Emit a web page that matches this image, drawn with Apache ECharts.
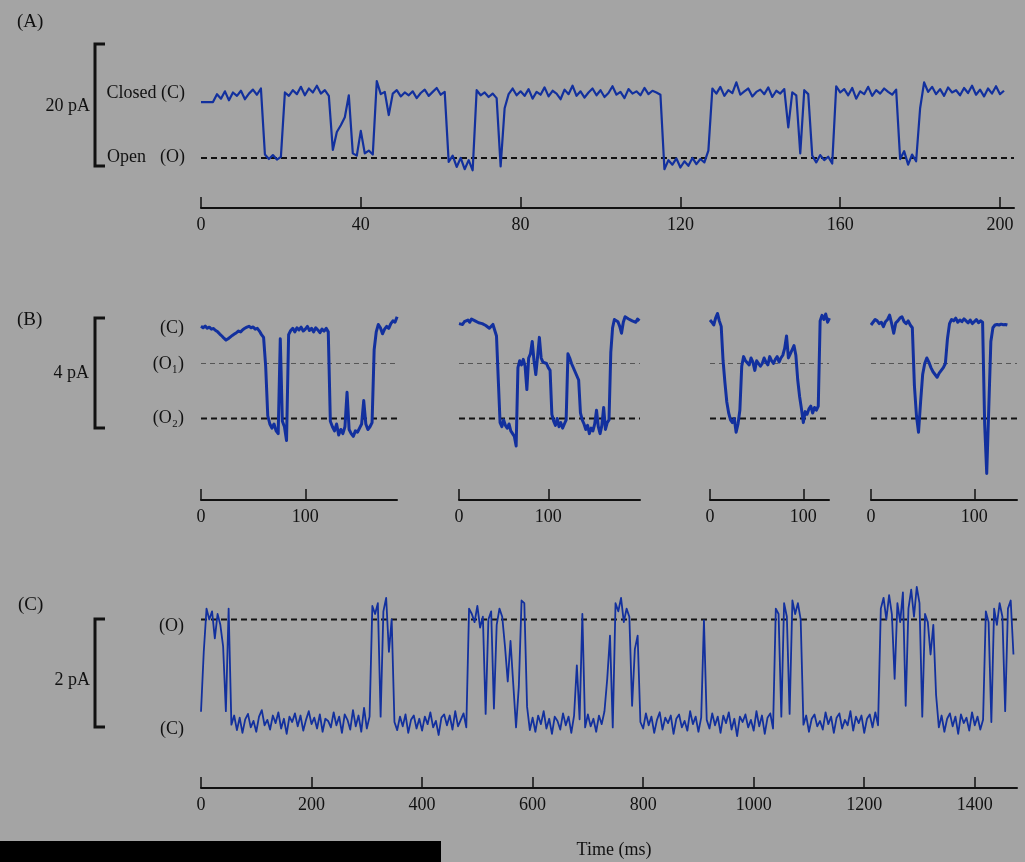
<!DOCTYPE html>
<html>
<head>
<meta charset="utf-8">
<script src="https://cdn.jsdelivr.net/npm/echarts@6/dist/echarts.min.js"></script>
<style>
  html, body { margin: 0; padding: 0; background: #a4a4a4; }
  #main { width: 1025px; height: 862px; }
</style>
</head>
<body>
<div id="main"></div>
<script>
// single channel current traces (pA)
// (A) 1 ms per sample
var aStep = 1;
var aCurrent = [
  -0.9, -0.9, -0.9, -0.9, 0.5, -0.3, 1.0, -0.6, 0.8, 0.2,
  1.1, -0.4, 0.6, 1.3, 0.4, 1.5, -10.2, -11.0, -10.3, -11.1,
  -10.6, 0.8, 0.2, 1.2, 0.5, 1.8, 0.3, 1.5, 0.8, 2.0,
  0.6, 1.2, 0.2, -9.4, -6.2, -5.0, -3.6, 0.3, -10.0, -10.4,
  -6.0, -10.0, -9.5, -10.2, 2.8, 0.5, 0.9, -3.2, 0.6, 1.2,
  0.1, 0.8, 0.3, 1.0, -0.2, 0.7, 1.3, 0.2, 0.9, 1.6,
  0.4, 0.9, -11.5, -10.4, -12.4, -10.8, -12.8, -11.2, -13.0, 1.2,
  0.3, 0.8, 0.0, 0.6, -0.2, -12.3, -2.0, 0.5, 1.5, 0.3,
  1.0, 0.2, 1.4, -0.3, 0.9, 0.4, 1.7, 0.1, 1.1, 0.6,
  -0.4, 1.3, 0.5, 2.0, 0.2, 1.0, -0.1, 0.8, 1.5, 0.3,
  1.2, 0.0, 0.7, 1.9, 0.4, 0.9, -0.2, 1.4, 0.6, 1.0,
  0.3, 1.6, 0.5, 1.1, 0.8, 0.4, -12.8, -11.2, -12.0, -10.9,
  -12.5, -11.4, -12.2, -10.8, -11.9, -11.0, -11.6, -9.5, 1.5, 0.6,
  1.8, 0.2, 1.2, 0.7, 2.6, 0.4, 1.0, 1.5, 0.1, 0.9,
  1.3, 0.5, 1.7, 0.0, 1.1, 0.6, 1.4, -5.4, 0.8, 0.3,
  -10.0, 1.2, 0.5, -10.4, -11.6, -10.3, -11.2, -10.6, -11.8, 1.9,
  0.8, 1.4, 0.3, 1.6, -0.3, 1.0, 0.5, 1.8, 0.2, 1.2,
  0.6, 1.5, 0.9, 0.4, 1.3, -11.0, -9.6, -12.0, -10.2, -11.4,
  -2.0, 2.6, 0.9, 1.8, 0.5, 1.4, 0.2, 1.7, 0.8, 1.2,
  0.3, 1.6, 0.7, 2.0, 0.4, 1.3, 0.1, 1.5, 0.6, 1.9,
  0.5, 1.1
];
var aOpen = -10.8;
var aTicks = [0, 40, 80, 120, 160, 200];

// (B) 2 ms per sample, four sweeps
var bStep = 2;
var b1Current = [
  -0.05, -0.10, -0.04, -0.12, -0.08, -0.15, -0.13, -0.20, -0.25, -0.33,
  -0.40, -0.48, -0.55, -0.50, -0.44, -0.38, -0.33, -0.28, -0.22, -0.25,
  -0.17, -0.12, -0.08, -0.05, -0.10, -0.07, -0.15, -0.12, -0.22, -0.35,
  -0.45, -1.50, -3.30, -3.60, -3.75, -3.60, -3.85, -3.95, -0.50, -3.50,
  -3.70, -4.20, -0.35, -0.20, -0.12, -0.25, -0.10, -0.18, -0.08, -0.22,
  -0.15, -0.05, -0.20, -0.12, -0.25, -0.10, -0.18, -0.28, -0.15, -0.22,
  -0.12, -0.25, -3.50, -3.70, -3.85, -3.60, -4.00, -3.80, -3.95, -3.70,
  -2.45, -3.80, -3.95, -4.05, -3.85, -3.90, -3.75, -3.60, -2.75, -3.60,
  -3.80, -3.70, -3.55, -0.90, -0.25, 0.02, -0.10, -0.32, -0.15, -0.05,
  -0.12, 0.05, 0.15, 0.10, 0.30
];
var b2Current = [
  0.05, 0.10, 0.02, 0.12, 0.15, 0.18, 0.10, 0.22, 0.26, 0.15,
  0.20, 0.08, 0.15, 0.05, 0.12, -0.02, -0.08, -0.12, -0.05, 0.02,
  -0.05, -0.40, -2.00, -3.55, -3.70, -3.45, -3.65, -3.75, -3.60, -3.85,
  -3.95, -4.05, -4.40, -1.55, -1.30, -1.45, -1.25, -1.50, -2.35, -1.20,
  -1.05, -0.60, -1.30, -1.80, -1.15, -0.45, -1.20, -1.35, -1.30, -1.40,
  -1.55, -1.65, -3.25, -3.50, -3.65, -3.40, -3.70, -3.55, -3.75, -3.60,
  -3.45, -1.05, -1.20, -1.40, -1.45, -1.70, -1.75, -2.00, -3.20, -3.45,
  -3.60, -3.80, -3.65, -3.95, -3.75, -3.85, -3.60, -3.10, -3.70, -3.95,
  -3.65, -3.00, -3.80, -3.55, -3.45, -1.00, -0.10, 0.20, 0.25, 0.12,
  -0.05, -0.30, 0.10, 0.30, 0.35, 0.22, 0.28, 0.15, 0.20, 0.10,
  0.22, 0.15
];
var b3Current = [
  0.18, 0.10, 0.00, 0.25, 0.42, 0.15, -0.05, -1.30, -2.10, -2.80,
  -3.20, -3.45, -3.55, -3.40, -3.90, -3.60, -3.10, -1.50, -1.15, -1.30,
  -1.30, -1.45, -1.20, -1.35, -1.65, -1.30, -1.25, -1.50, -1.40, -1.20,
  -1.35, -1.45, -1.15, -1.30, -1.40, -1.25, -1.15, -1.35, -1.20, -1.10,
  -0.85, -0.40, -1.20, -1.05, -0.90, -0.75, -1.10, -2.00, -2.60, -3.05,
  -3.55, -3.15, -3.25, -3.05, -2.95, -3.20, -3.00, -3.10, -2.95, 0.15,
  0.35, 0.20, 0.40, 0.10, 0.25
];
var b4Current = [
  0.00, 0.10, 0.20, 0.15, 0.05, 0.10, -0.06, 0.12, 0.20, 0.36,
  0.05, -0.30, 0.08, 0.15, 0.25, 0.30, 0.12, 0.05, 0.15, 0.00,
  -0.10, -2.20, -3.30, -3.90, -2.80, -1.80, -1.40, -1.20, -1.35, -1.55,
  -1.70, -1.80, -1.90, -1.75, -1.65, -1.55, -1.40, -0.50, 0.05, 0.20,
  0.15, 0.25, 0.10, 0.18, 0.12, 0.22, 0.15, 0.08, 0.18, 0.05,
  0.12, 0.20, 0.08, 0.15, 0.10, -3.60, -5.40, -3.00, -0.60, -0.10,
  0.00, 0.02, 0.00, 0.03, 0.01, 0.02, 0.00
];
var bO1 = -1.4;
var bO2 = -3.4;
var bTicks = [0, 100];

// (C) 5 ms per sample
var cStep = 5;
var cCurrent = [
  0.19, 1.30, 2.10, 1.90, 2.05, 1.55, 2.00, 1.80, 1.40, 0.20,
  2.10, -0.05, 0.12, -0.15, 0.08, -0.20, 0.05, 0.15, -0.10, 0.02,
  -0.18, 0.10, 0.22, -0.06, 0.04, -0.14, 0.12, -0.02, 0.18, -0.12,
  0.06, -0.22, 0.10, 0.00, 0.16, -0.08, 0.12, -0.16, 0.04, 0.20,
  -0.04, 0.08, -0.12, 0.14, -0.18, 0.06, 0.02, -0.10, 0.18, -0.06,
  0.10, -0.20, 0.14, 0.04, -0.14, 0.22, -0.08, 0.12, -0.18, 0.26,
  -0.12, 0.10, 2.15, 2.00, 2.20, 0.10, 2.05, 2.30, 1.30, 1.90,
  0.00, -0.15, 0.10, -0.08, 0.14, -0.20, 0.04, 0.12, -0.12, 0.06,
  -0.16, 0.10, -0.04, 0.18, -0.10, 0.02, -0.24, 0.08, 0.14, -0.06,
  0.12, -0.14, 0.20, -0.08, 0.04, 0.16, -0.10, 2.10, 2.00, 1.85,
  2.15, 1.75, 1.95, 0.15, 1.90, 2.05, 0.25, 1.80, 2.10, 1.95,
  1.40, 0.75, 1.50, 0.70, -0.10, 0.65, 2.25, 2.20, 0.28, -0.15,
  0.08, -0.18, 0.12, -0.04, 0.20, -0.12, 0.06, -0.22, 0.10, 0.02,
  -0.14, 0.16, -0.06, 0.10, -0.20, 0.12, 1.05, 0.05, 2.00, -0.10,
  0.14, -0.08, 0.06, -0.18, 0.12, -0.04, 0.20, 0.80, 1.60, -0.10,
  2.20, 2.05, 2.30, 1.85, 2.10, 1.95, 0.30, 1.35, 1.60, 0.00,
  -0.12, 0.16, -0.06, 0.10, -0.20, 0.04, 0.18, -0.14, 0.08, -0.02,
  0.12, -0.22, 0.06, 0.14, -0.10, 0.02, -0.16, 0.20, -0.04, 0.10,
  -0.18, 0.08, 1.88, 0.04, -0.12, 0.16, -0.06, 0.10, -0.20, 0.12,
  -0.02, 0.18, -0.14, 0.06, -0.26, 0.10, 0.00, 0.14, -0.10, 0.04,
  -0.16, 0.20, -0.08, 0.12, -0.22, 0.08, 0.16, -0.12, 2.10, 2.00,
  0.10, 2.20, 1.95, 0.15, 2.25, 2.00, 2.20, 1.90, -0.05, 0.12,
  -0.18, 0.06, 0.14, -0.08, 0.02, -0.14, 0.18, -0.04, 0.10, -0.20,
  0.08, 0.16, -0.12, 0.04, -0.06, 0.20, -0.16, 0.10, -0.02, 0.12,
  -0.20, 0.06, 0.14, -0.10, 0.18, -0.06, 2.10, 2.30, 1.90, 2.35,
  2.00, 0.80, 2.20, 1.85, 2.40, 0.30, 2.10, 2.45, 1.95, 2.50,
  2.20, 0.10, 2.00, 1.85, 1.25, 1.80, 0.50, -0.10, 0.12, -0.18,
  0.06, 0.16, -0.08, 0.10, -0.22, 0.14, -0.02, 0.08, -0.16, 0.18,
  -0.06, 0.10, -0.14, 0.04, 2.05, 1.85, 0.00, 2.10, 1.80, 2.20,
  1.95, 0.20, 2.10, 2.25, 1.25
];
var cOpen = 1.9;
var cTicks = [0, 200, 400, 600, 800, 1000, 1200, 1400];

var traceColor = '#12309e';
var ink = '#111';
var serif = "'Liberation Serif', 'DejaVu Serif', serif";

function toPairs(values, step) {
  var out = [];
  for (var i = 0; i < values.length; i++) {
    out.push([i * step, values[i]]);
  }
  return out;
}

// one grid per sweep
var panels = [
  { grid: { left: 201, top: 40, width: 813, height: 168 }, xMax: 203.5, yMin: -19.68, yMax: 10.1,
    ticks: aTicks, trace: aCurrent, step: aStep, lw: 2.2,
    levels: [{ v: aOpen, w: 2, c: ink, dash: [6, 4] }] },
  { grid: { left: 201, top: 300, width: 196, height: 200 }, xMax: 187.9, yMin: -6.364, yMax: 0.909,
    ticks: bTicks, trace: b1Current, step: bStep, lw: 3,
    levels: [{ v: bO1, w: 1, c: '#555', dash: [5, 4] }, { v: bO2, w: 2.2, c: ink, dash: [6, 4] }] },
  { grid: { left: 459, top: 300, width: 181, height: 200 }, xMax: 202.7, yMin: -6.364, yMax: 0.909,
    ticks: bTicks, trace: b2Current, step: bStep, lw: 3,
    levels: [{ v: bO1, w: 1, c: '#555', dash: [5, 4] }, { v: bO2, w: 2.2, c: ink, dash: [6, 4] }] },
  { grid: { left: 710, top: 300, width: 119, height: 200 }, xMax: 127.5, yMin: -6.364, yMax: 0.909,
    ticks: bTicks, trace: b3Current, step: bStep, lw: 3,
    levels: [{ v: bO1, w: 1, c: '#555', dash: [5, 4] }, { v: bO2, w: 2.2, c: ink, dash: [6, 4] }] },
  { grid: { left: 871, top: 300, width: 146, height: 200 }, xMax: 141.3, yMin: -6.364, yMax: 0.909,
    ticks: bTicks, trace: b4Current, step: bStep, lw: 3,
    levels: [{ v: bO1, w: 1, c: '#555', dash: [5, 4] }, { v: bO2, w: 2.2, c: ink, dash: [6, 4] }] },
  { grid: { left: 201, top: 580, width: 816, height: 208 }, xMax: 1476.4, yMin: -1.222, yMax: 2.63,
    ticks: cTicks, trace: cCurrent, step: cStep, lw: 1.8,
    levels: [{ v: cOpen, w: 2, c: ink, dash: [6, 4] }] }
];

var grids = [], xAxes = [], yAxes = [], series = [];
for (var p = 0; p < panels.length; p++) {
  var pn = panels[p];
  var g = pn.grid;
  g.containLabel = false;
  g.outerBoundsMode = 'none';
  grids.push(g);
  xAxes.push({
    type: 'value', gridIndex: p, min: 0, max: pn.xMax, position: 'bottom',
    splitLine: { show: false },
    axisLine: { show: true, onZero: false, lineStyle: { color: ink, width: 2 } },
    axisTick: { show: true, inside: true, length: 11, customValues: pn.ticks, lineStyle: { color: ink, width: 1.5 } },
    axisLabel: {
      customValues: pn.ticks, color: ink, fontFamily: serif, fontSize: 18, margin: 8,
      formatter: function (v) { return String(v); }
    }
  });
  yAxes.push({ type: 'value', gridIndex: p, min: pn.yMin, max: pn.yMax, show: false });
  for (var k = 0; k < pn.levels.length; k++) {
    var lv = pn.levels[k];
    series.push({
      type: 'line', xAxisIndex: p, yAxisIndex: p, z: 1,
      symbol: 'none', silent: true,
      data: [[0, lv.v], [pn.xMax, lv.v]],
      lineStyle: { color: lv.c, width: lv.w, type: lv.dash }
    });
  }
  series.push({
    type: 'line', xAxisIndex: p, yAxisIndex: p, z: 2,
    symbol: 'none', silent: true,
    data: toPairs(pn.trace, pn.step),
    lineStyle: { color: traceColor, width: pn.lw, join: 'round' }
  });
}

function label(txt, x, y, align, size) {
  return { type: 'text', x: x, y: y, silent: true,
    style: { text: txt, fill: ink, font: (size || 18) + 'px ' + serif, textAlign: align || 'right', textVerticalAlign: 'middle' } };
}
function bracket(y0, y1) {
  return { type: 'polyline', silent: true,
    shape: { points: [[105, y0], [95, y0], [95, y1], [105, y1]] },
    style: { stroke: ink, lineWidth: 3, fill: null } };
}

var graphics = [
  label('(A)', 17, 22, 'left', 19),
  bracket(44, 166),
  label('20 pA', 90, 106),
  label('Closed (C)', 185, 93),
  label('Open', 107, 157, 'left'),
  label('(O)', 185, 157),

  label('(B)', 17, 320, 'left', 19),
  bracket(318, 428),
  label('4 pA', 89, 373),
  label('(C)', 184, 328),
  label('(O\u2081)', 184, 364),
  label('(O\u2082)', 184, 418),

  label('(C)', 18, 605, 'left', 19),
  bracket(619, 727),
  label('2 pA', 90, 680),
  label('(O)', 184, 626),
  label('(C)', 184, 729),

  label('Time (ms)', 614, 850, 'center'),
  { type: 'rect', silent: true, shape: { x: 0, y: 841, width: 441, height: 21 }, style: { fill: '#000' } }
];

var chart = echarts.init(document.getElementById('main'));
chart.setOption({
  backgroundColor: '#a4a4a4',
  animation: false,
  grid: grids,
  xAxis: xAxes,
  yAxis: yAxes,
  series: series,
  graphic: graphics
});
</script>
</body>
</html>
